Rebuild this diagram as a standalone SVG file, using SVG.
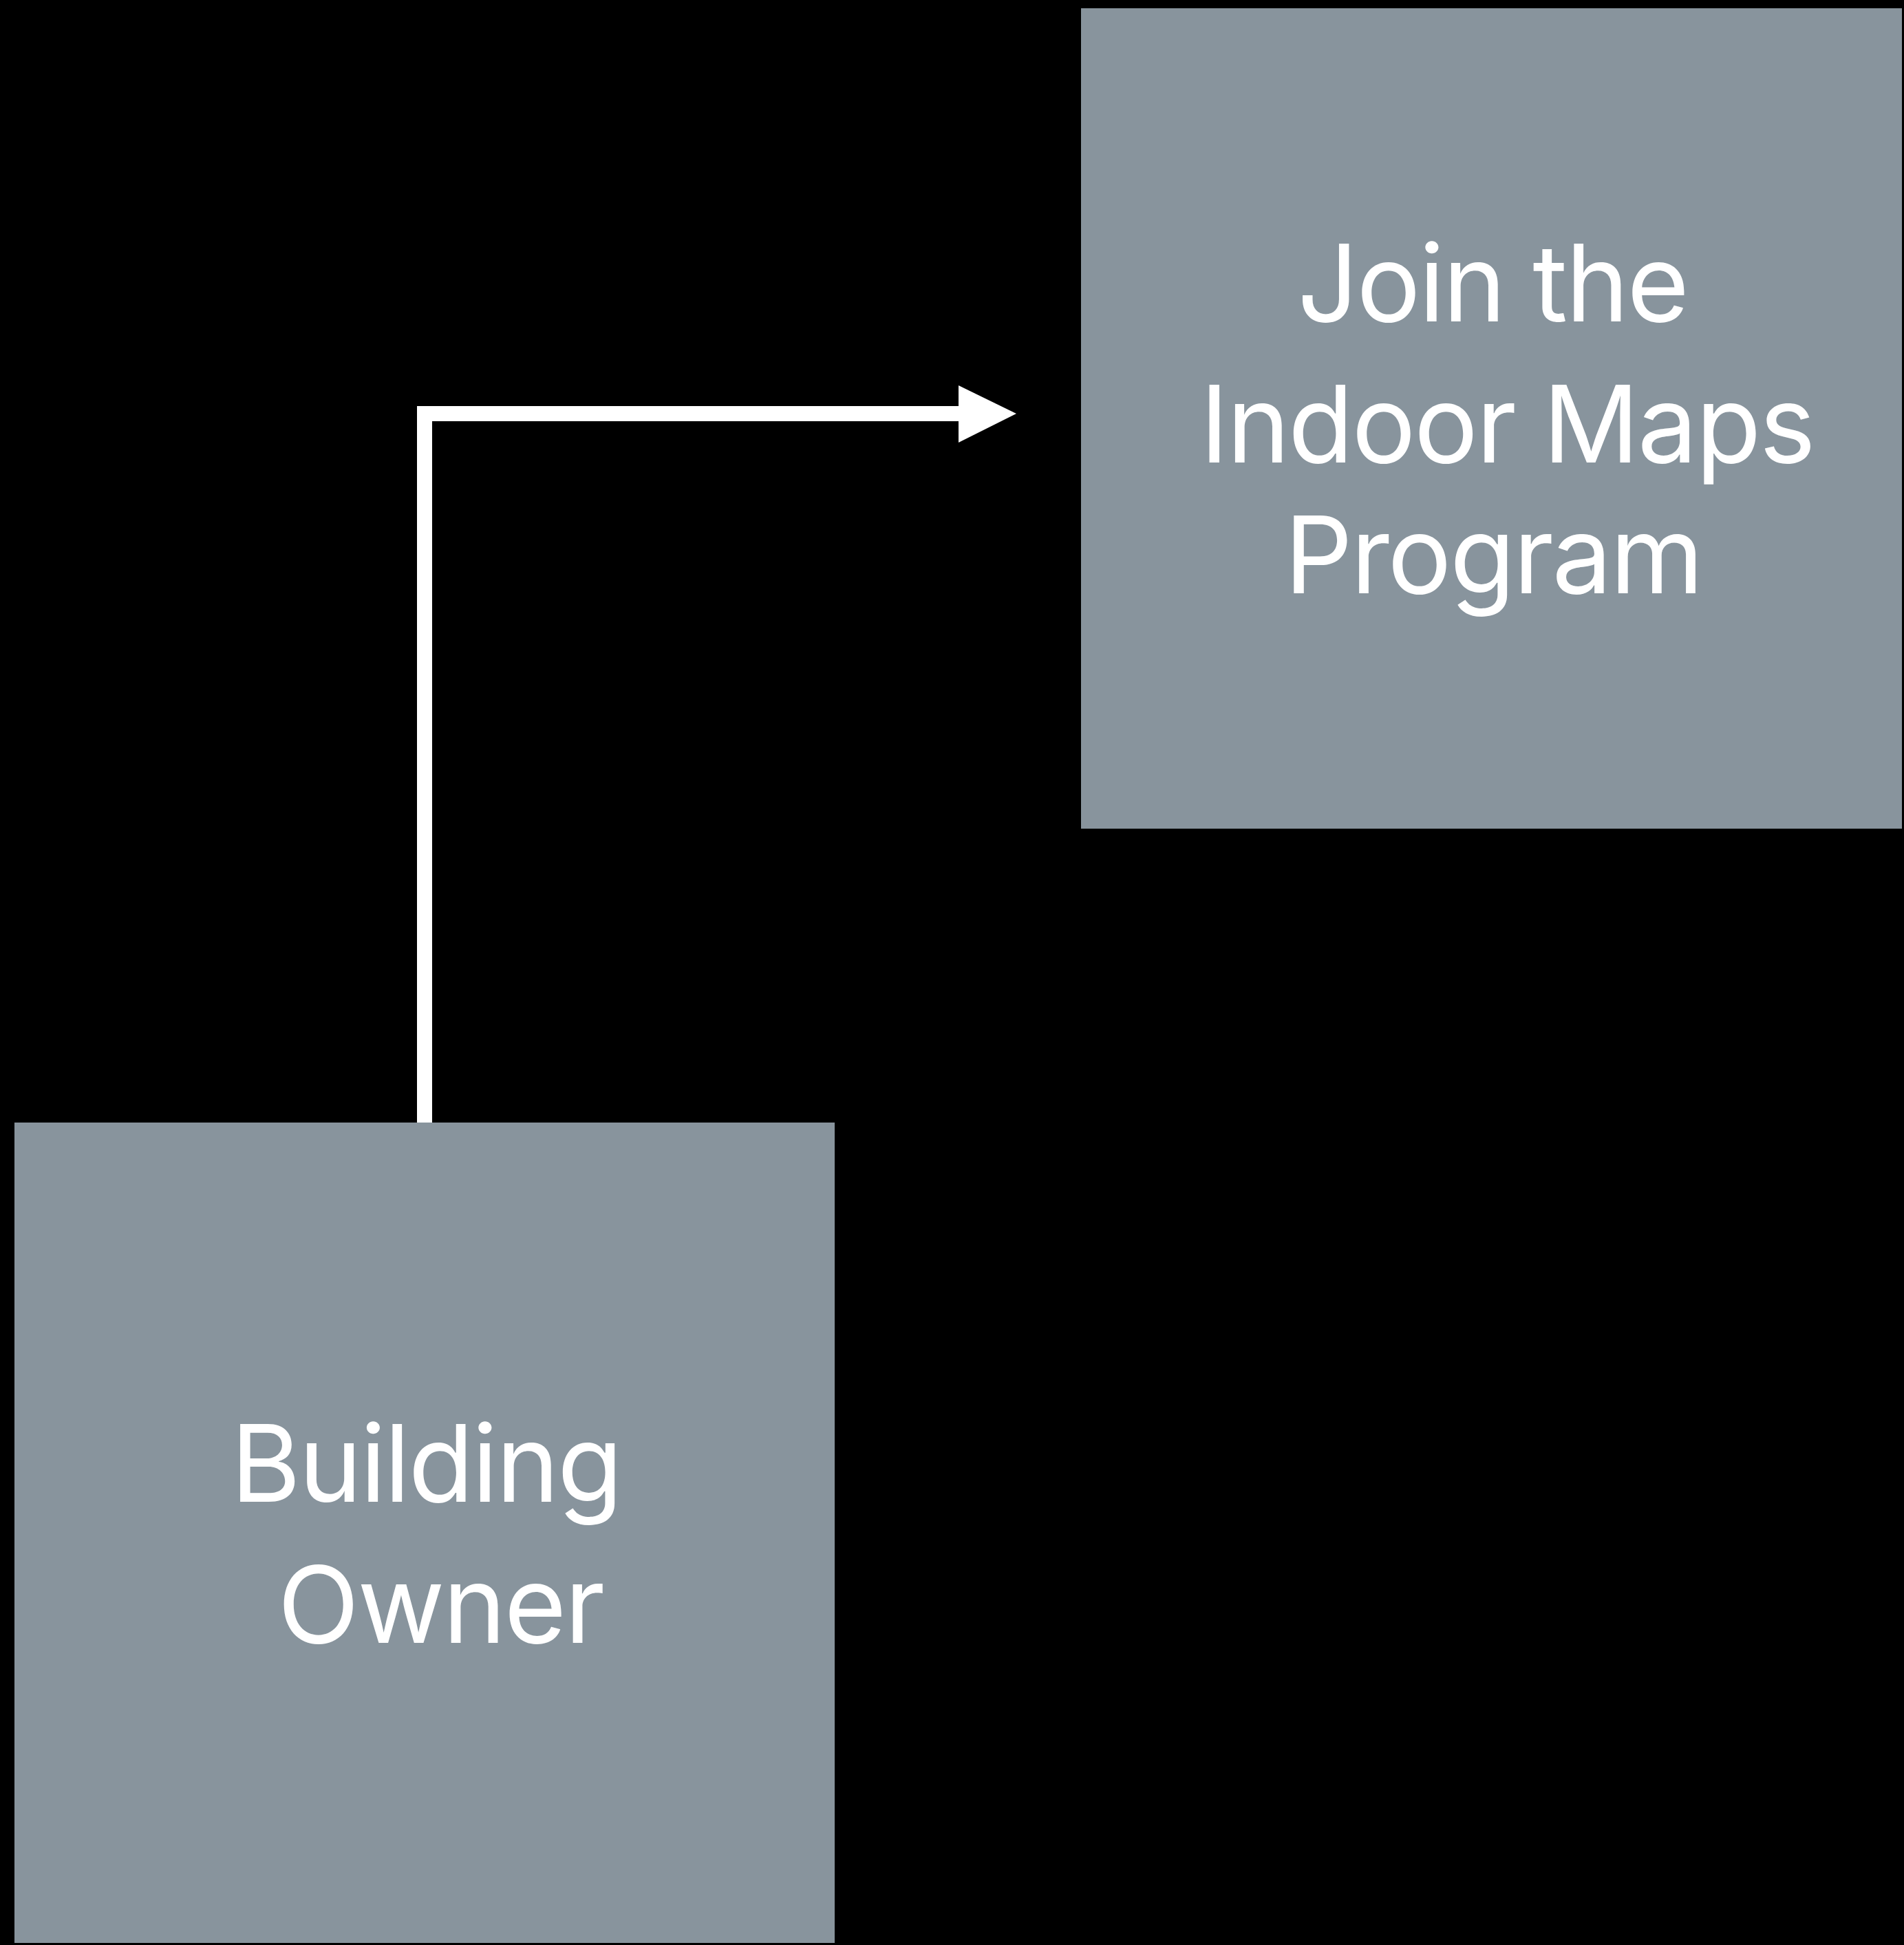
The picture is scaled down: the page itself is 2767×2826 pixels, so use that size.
<svg xmlns="http://www.w3.org/2000/svg" width="2767" height="2826" viewBox="0 0 2767 2826">
<style>
.box{fill:#88949d}
.lbl{fill:#ffffff;font-family:Inter,"Open Sans","Liberation Sans",sans-serif;font-size:155px;text-anchor:middle;letter-spacing:-2.5px}
.conn{fill:none;stroke:#ffffff;stroke-width:22;stroke-linejoin:miter}
</style>
<rect x="0" y="0" width="2767" height="2826" fill="#000000"/>
<g id="node-join">
<rect class="box" x="1571" y="12" width="1193" height="1192"/>
<text class="lbl" x="2169" y="467">Join the</text>
<text class="lbl" x="2190" y="672">Indoor Maps</text>
<text class="lbl" x="2170" y="862">Program</text>
</g>
<g id="node-owner">
<rect class="box" x="21" y="1631" width="1192" height="1192"/>
<text class="lbl" x="619" y="2182">Building</text>
<text class="lbl" x="640" y="2387">Owner</text>
</g>
<g id="connectors">
<path class="conn" d="M617,1631 V601 H1400"/>
<polygon points="1393,560 1477,601 1393,643" fill="#ffffff"/>
</g>
</svg>
